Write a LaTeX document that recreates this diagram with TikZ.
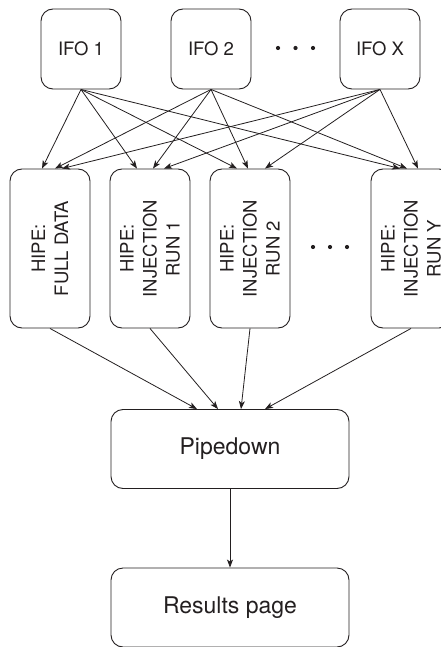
\documentclass[tikz,border=0pt]{standalone}
\usepackage{fontspec}
\setmainfont{TeX Gyre Heros}
\usetikzlibrary{arrows.meta}
\definecolor{ink}{RGB}{35,31,32}
\begin{document}
\begin{tikzpicture}[x=1pt,y=-1pt,
  box/.style={draw=ink,line width=0.9pt,rounded corners=12pt,inner sep=0pt,text=ink},
  small/.style={font=\fontsize{18.5}{23}\selectfont},
  big/.style={font=\fontsize{23}{27}\selectfont},
  ifobox/.style={box,small,minimum width=80pt,minimum height=80pt},
  hipebox/.style={box,minimum width=80pt,minimum height=159pt},
  hipetext/.style={small,text=ink,rotate=90,align=center,inner sep=0pt},
  widebox/.style={box,big,minimum width=238pt,minimum height=79pt},
  arr/.style={draw=ink,line width=0.8pt,-{Stealth[length=8pt,width=6pt,inset=2pt]}},
  dot/.style={fill=ink,circle,inner sep=0pt,minimum size=4.2pt}
]
\useasboundingbox (0,0) rectangle (441,647);
\clip (0,0) rectangle (441,647);

% IFO nodes
\node[ifobox] (i1) at (81,49) {IFO 1};
\node[ifobox] (i2) at (211,49) {IFO 2};
\node[ifobox] (ix) at (380,49) {IFO X};
\node[dot] (d1) at (278,48) {};
\node[dot] (d2) at (295.5,48) {};
\node[dot] (d3) at (313,48) {};

% HIPE nodes
\node[hipebox] (h1) at (50,248.5) {};
\node[hipebox] (h2) at (150,248.5) {};
\node[hipebox] (h3) at (250,248.5) {};
\node[hipebox] (hy) at (411,248.5) {};
\node[hipetext] (t1) at (h1.center) {HIPE:\\FULL DATA};
\node[hipetext] (t2) at (h2.center) {HIPE:\\INJECTION\\RUN 1};
\node[hipetext] (t3) at (h3.center) {HIPE:\\INJECTION\\RUN 2};
\node[hipetext] (ty) at (hy.center) {HIPE:\\INJECTION\\RUN Y};
\node[dot] (e1) at (313,247) {};
\node[dot] (e2) at (330,247) {};
\node[dot] (e3) at (347,247) {};

% bottom nodes
\node[widebox] (pd) at (230,449) {Pipedown};
\node[widebox] (rp) at (230,607.5) {Results page};

% IFO -> HIPE
\draw[arr] (i1.south) -- ([xshift=-8pt]h1.north);
\draw[arr] (i2.south) -- ([xshift=5pt]h1.north);
\draw[arr] (ix.south) -- ([xshift=12pt]h1.north);
\draw[arr] (i1.south) -- ([xshift=-13pt]h2.north);
\draw[arr] (i2.south) -- ([xshift=3pt]h2.north);
\draw[arr] (ix.south) -- ([xshift=14pt]h2.north);
\draw[arr] (i1.south) -- ([xshift=-13pt]h3.north);
\draw[arr] (i2.south) -- ([xshift=-2pt]h3.north);
\draw[arr] (ix.south) -- ([xshift=15pt]h3.north);
\draw[arr] (i1.south) -- ([xshift=-11pt]hy.north);
\draw[arr] (i2.south) -- ([xshift=-4pt]hy.north);
\draw[arr] (ix.south) -- ([xshift=7pt]hy.north);

% HIPE -> Pipedown
\draw[arr] (h1.south) -- ([xshift=-33pt]pd.north);
\draw[arr] (h2.south) -- ([xshift=-12pt]pd.north);
\draw[arr] (h3.south) -- ([xshift=11pt]pd.north);
\draw[arr] (hy.south) -- ([xshift=35pt]pd.north);

% Pipedown -> Results
\draw[arr] (pd.south) -- (rp.north);
\end{tikzpicture}
\end{document}
